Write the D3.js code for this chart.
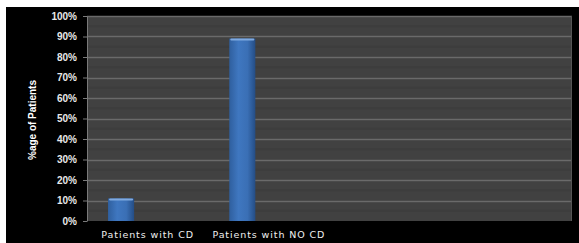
<!DOCTYPE html>
<html>
<head>
<meta charset="utf-8">
<script src="https://cdn.jsdelivr.net/npm/d3@7"></script>
<style>
  body { margin: 0; background: #fff; }
  svg { display: block; }
</style>
</head>
<body>
<svg width="579" height="243"></svg>
<script>
// categories (two empty slots on the right, as in the original sheet)
const categories = ["Patients with CD", "Patients with NO CD", "", ""];
const values = [11, 89, null, null];
const yTicks = [0, 10, 20, 30, 40, 50, 60, 70, 80, 90, 100];
const yLabel = "%age of Patients";

const svg = d3.select("svg"),
    margin = {top: 16, right: 7, bottom: 22, left: 87},
    W = +svg.attr("width"),
    H = +svg.attr("height"),
    width = W - margin.left - margin.right,
    height = H - margin.top - margin.bottom;

// black frame with the white strip on top and left
svg.append("rect").attr("x", 6).attr("y", 7).attr("width", W - 6).attr("height", H - 7).attr("fill", "#000");

const g = svg.append("g").attr("transform", `translate(${margin.left},${margin.top})`);

let x = d3.scaleBand().domain(d3.range(categories.length)).range([0, width]);
let y = d3.scaleLinear().domain([0, 100]).range([height, 0]);

// plot background
g.append("rect").attr("width", width).attr("height", height).attr("fill", "#414141");

// faint stripes between gridlines
g.append("g").selectAll("line")
  .data(d3.range(0, 100, 5).filter(v => v % 10 != 0))
  .enter().append("line")
  .attr("x1", 0).attr("x2", width)
  .attr("y1", d => y(d)).attr("y2", d => y(d))
  .attr("stroke", "#3d3d3d").attr("stroke-width", 2);

// gridlines
g.append("g").selectAll("line")
  .data(yTicks.slice(1))
  .enter().append("line")
  .attr("x1", 0).attr("x2", width)
  .attr("y1", d => Math.round(y(d)) + 0.5).attr("y2", d => Math.round(y(d)) + 0.5)
  .attr("stroke", "#6a6a6a").attr("stroke-width", 1.5);

// right edge highlight
g.append("line").attr("x1", width - 0.5).attr("x2", width - 0.5).attr("y1", 0).attr("y2", height)
  .attr("stroke", "#555");

// bars, gradient to look like the 3d excel style
const defs = svg.append("defs");
const grad = defs.append("linearGradient").attr("id", "barGrad").attr("x1", 0).attr("x2", 1);
grad.append("stop").attr("offset", "0%").attr("stop-color", "#2f5f9e");
grad.append("stop").attr("offset", "35%").attr("stop-color", "#3f77c0");
grad.append("stop").attr("offset", "70%").attr("stop-color", "#3a6fb5");
grad.append("stop").attr("offset", "100%").attr("stop-color", "#244d85");

const barW = x.bandwidth() * 26 / 121,
    barOff = x.bandwidth() * 21 / 121;

const bars = g.append("g").selectAll("g")
  .data(values.map((v, i) => ({i: i, v: v})).filter(d => d.v != null))
  .enter().append("g");

bars.append("rect")
  .attr("x", d => x(d.i) + barOff)
  .attr("y", d => y(d.v))
  .attr("width", barW)
  .attr("height", d => height - y(d.v))
  .attr("fill", "url(#barGrad)");

bars.append("rect")
  .attr("x", d => x(d.i) + barOff + 1)
  .attr("y", d => y(d.v))
  .attr("width", barW - 2)
  .attr("height", 2)
  .attr("rx", 1)
  .attr("fill", "#7fa9e0");

// y axis
const yAxis = g.append("g")
  .call(d3.axisLeft(y).tickValues(yTicks).tickFormat(d => d + "%").tickSize(4).tickSizeOuter(0));
yAxis.select(".domain").attr("stroke", "#7a7a7a");
yAxis.selectAll(".tick line").attr("stroke", "#7a7a7a");
yAxis.selectAll(".tick text")
  .attr("x", -10)
  .attr("fill", "#e8e8e8")
  .style("font-family", "'Liberation Sans', Arial, sans-serif")
  .style("font-size", "10px")
  .style("font-weight", "bold");

// x axis labels
const xAxis = g.append("g")
  .attr("transform", `translate(0,${height})`)
  .call(d3.axisBottom(x).tickFormat(i => categories[i]).tickSize(0));
xAxis.select(".domain").remove();
xAxis.selectAll(".tick text")
  .attr("dy", "1.45em")
  .attr("fill", "#f0f0f0")
  .style("font-family", "'DejaVu Sans', sans-serif")
  .style("font-size", "9.5px")
  .style("letter-spacing", "0.9px");

// y axis title
svg.append("text")
  .attr("transform", "translate(36,120) rotate(-90)")
  .attr("text-anchor", "middle")
  .attr("fill", "#fff")
  .style("font-family", "'Liberation Sans Narrow', 'Arial Narrow', sans-serif")
  .style("font-size", "10px")
  .style("font-weight", "bold")
  .text(yLabel);
</script>
</body>
</html>
